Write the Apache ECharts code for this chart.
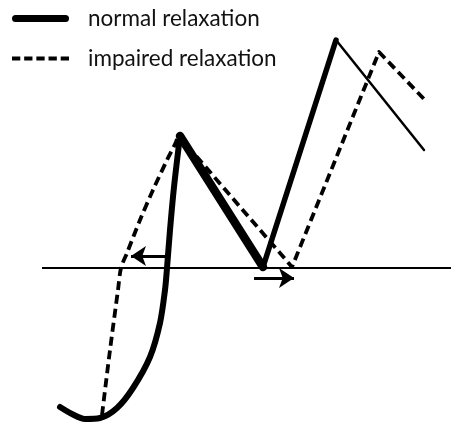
<!DOCTYPE html>
<html>
<head>
<meta charset="utf-8">
<script src="https://cdn.jsdelivr.net/npm/echarts@6/dist/echarts.min.js"></script>
<style>
  html, body { margin: 0; padding: 0; background: #fff; }
  #main { width: 451px; height: 425px; }
</style>
</head>
<body>
<div id="main"></div>
<script>
// schematic units: x = time, y = value above baseline (0)
const normalRise = [[60, -139], [72, -146], [85, -151], [100, -150], [117, -140], [133, -120],
  [150, -89], [160, -55], [165, -22], [167, 0], [170, 38], [174, 81], [180, 132]]
const normalFall = [[180, 132], [263, 1]]
const normalRise2 = [[263, 1], [336, 228]]
const normalFall2 = [[336, 228], [424, 118]]

const impairedRise = [[102, -147], [110, -82], [118, -22], [121, 0], [127, 15],
  [140, 48], [153, 78], [167, 108], [176, 126], [178, 133]]
const impairedRest = [[178, 133], [292, 1], [379, 216], [424, 169]]

const baseline = [[42, 0], [451, 0]]
const arrowLeft = [[165, 12], [131, 12]]
const arrowRight = [[254, -10], [294, -10]]

const names = ['normal relaxation', 'impaired relaxation']

const chart = echarts.init(document.getElementById('main'))

const solid = (data, width, smooth) => ({
  name: names[0],
  type: 'line',
  data: data,
  smooth: smooth || false,
  symbol: 'none',
  silent: true,
  itemStyle: { color: '#000' },
  lineStyle: { color: '#000', width: width, cap: 'round', join: 'round' }
})
const dashed = (data, smooth) => ({
  name: names[1],
  type: 'line',
  data: data,
  smooth: smooth || false,
  symbol: 'none',
  silent: true,
  itemStyle: { color: '#000' },
  lineStyle: { color: '#000', width: 3.8, type: [9, 5], join: 'round' }
})

const option = {
  animation: false,
  grid: { left: 0, right: 0, top: 0, bottom: 0 },
  xAxis: { type: 'value', min: 0, max: 451, show: false },
  yAxis: { type: 'value', min: -157, max: 268, show: false },
  legend: {
    data: [
      { name: names[0], icon: 'path://M3.5,0H53.5A3.5,3.5,0,0,1,53.5,7H3.5A3.5,3.5,0,0,1,3.5,0z' },
      { name: names[1], icon: 'path://M0,0h8v4h-8z M11.75,0h8v4h-8z M23.5,0h8v4h-8z M35.25,0h8v4h-8z M47,0h8v4h-8z' }
    ],
    orient: 'vertical',
    left: 7,
    top: 2,
    itemWidth: 57,
    itemHeight: 28,
    itemGap: 17,
    symbolKeepAspect: true,
    selectedMode: false,
    itemStyle: { color: '#000' },
    textStyle: { fontFamily: 'Lato', fontSize: 22.5, color: '#111', padding: [0, 0, 0, 14] }
  },
  series: [
    solid(normalRise, 6, 0.3),
    solid(normalFall, 8.5),
    solid(normalRise2, 5.5),
    solid(normalFall2, 2.5),
    dashed(impairedRise, 0.3),
    dashed(impairedRest),
    {
      type: 'line',
      data: baseline,
      symbol: 'none',
      silent: true,
      lineStyle: { color: '#000', width: 2 }
    },
    {
      type: 'lines',
      coordinateSystem: 'cartesian2d',
      silent: true,
      symbol: ['none', 'arrow'],
      symbolSize: [10, 15],
      lineStyle: { color: '#000', width: 3, opacity: 1 },
      data: [{ coords: arrowLeft }, { coords: arrowRight }]
    }
  ]
}
chart.setOption(option)
</script>
</body>
</html>
